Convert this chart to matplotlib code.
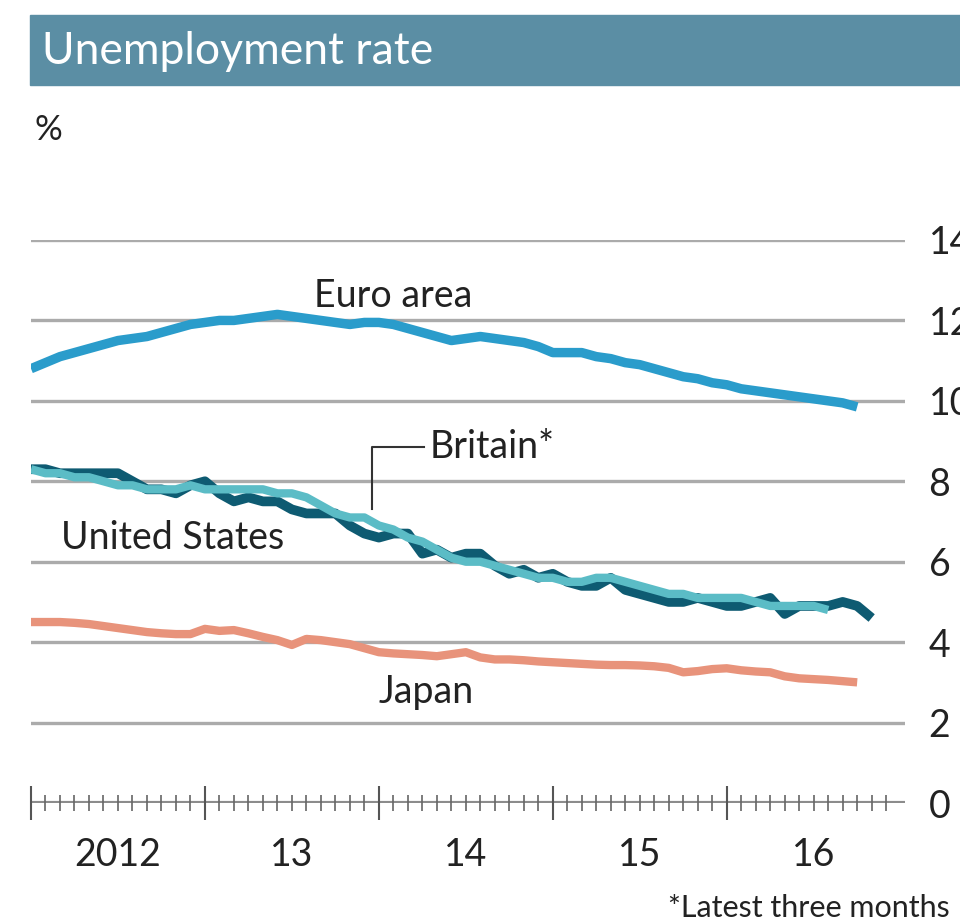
import matplotlib
matplotlib.use("Agg")
import matplotlib.pyplot as plt
from matplotlib import transforms

# monthly unemployment rates, %, starting January 2012
euro_area = [10.8, 10.95, 11.1, 11.2, 11.3, 11.4, 11.5, 11.55, 11.6, 11.7, 11.8, 11.9,
             11.95, 12.0, 12.0, 12.05, 12.1, 12.15, 12.1, 12.05, 12.0, 11.95, 11.9, 11.95,
             11.95, 11.9, 11.8, 11.7, 11.6, 11.5, 11.55, 11.6, 11.55, 11.5, 11.45, 11.35,
             11.2, 11.2, 11.2, 11.1, 11.05, 10.95, 10.9, 10.8, 10.7, 10.6, 10.55, 10.45,
             10.4, 10.3, 10.25, 10.2, 10.15, 10.1, 10.05, 10.0, 9.95, 9.85]
united_states = [8.3, 8.3, 8.2, 8.2, 8.2, 8.2, 8.2, 8.0, 7.8, 7.8, 7.7, 7.9,
                 8.0, 7.7, 7.5, 7.6, 7.5, 7.5, 7.3, 7.2, 7.2, 7.2, 6.9, 6.7,
                 6.6, 6.7, 6.7, 6.2, 6.3, 6.1, 6.2, 6.2, 5.9, 5.7, 5.8, 5.6,
                 5.7, 5.5, 5.4, 5.4, 5.6, 5.3, 5.2, 5.1, 5.0, 5.0, 5.1, 5.0,
                 4.9, 4.9, 5.0, 5.1, 4.7, 4.9, 4.9, 4.9, 5.0, 4.9, 4.6]
britain = [8.3, 8.2, 8.2, 8.1, 8.1, 8.0, 7.9, 7.9, 7.8, 7.8, 7.8, 7.9,
           7.8, 7.8, 7.8, 7.8, 7.8, 7.7, 7.7, 7.6, 7.4, 7.2, 7.1, 7.1,
           6.9, 6.8, 6.6, 6.5, 6.3, 6.1, 6.0, 6.0, 5.9, 5.8, 5.7, 5.6,
           5.6, 5.5, 5.5, 5.6, 5.6, 5.5, 5.4, 5.3, 5.2, 5.2, 5.1, 5.1,
           5.1, 5.1, 5.0, 4.9, 4.9, 4.9, 4.9, 4.8]
japan = [4.5, 4.5, 4.5, 4.48, 4.45, 4.4, 4.35, 4.3, 4.25, 4.22, 4.2, 4.2,
         4.33, 4.28, 4.3, 4.22, 4.13, 4.05, 3.93, 4.08, 4.05, 4.0, 3.95, 3.85,
         3.75, 3.72, 3.7, 3.68, 3.65, 3.7, 3.75, 3.62, 3.57, 3.57, 3.55, 3.52,
         3.5, 3.48, 3.46, 3.44, 3.43, 3.43, 3.42, 3.4, 3.36, 3.25, 3.28, 3.33,
         3.35, 3.3, 3.27, 3.25, 3.15, 3.1, 3.08, 3.06, 3.03, 3.0]

y_ticks = [0, 2, 4, 6, 8, 10, 12, 14]
year_labels = ["2012", "13", "14", "15", "16"]

plt.rcParams['font.family'] = ['Lato', 'DejaVu Sans']

fig = plt.figure(figsize=(9.6, 9.23), dpi=100)
fig.patch.set_facecolor("white")

# title bar
fig.patches.append(plt.Rectangle((30 / 960, 1 - 85 / 923), 930 / 960, 70 / 923,
                                 transform=fig.transFigure, color="#5b8ea4",
                                 zorder=0))
fig.text(42 / 960, 1 - 51 / 923, "Unemployment rate", color="white",
         fontsize=32, va="center", ha="left")
fig.text(34 / 960, 1 - 130 / 923, "%", color="#222222", fontsize=25,
         va="center", ha="left")
fig.text(950 / 960, 1 - 908 / 923, "*Latest three months", color="#222222",
         fontsize=22, va="center", ha="right")

ax = fig.add_axes([31 / 960, 120 / 923, 874 / 960, 563 / 923])
ax.set_xlim(0, 60.3)
ax.set_ylim(0, 14)
for s in ax.spines.values():
    s.set_visible(False)
ax.patch.set_alpha(0)

for v in y_ticks:
    if v == 0:
        ax.axhline(v, color="#8c8c8c", lw=3, zorder=1)
    else:
        ax.axhline(v, color="#ababab", lw=2.4, zorder=1)

ax.yaxis.tick_right()
ax.set_yticks(y_ticks)
ax.set_yticklabels([str(v) for v in y_ticks])
ax.tick_params(axis="y", length=0, pad=17, labelsize=27, labelcolor="#222222")

ax.set_xticks(range(0, 60, 12))
ax.set_xticks(range(0, 60), minor=True)
ax.set_xticklabels([])
ax.tick_params(axis="x", which="major", direction="inout", length=24,
               width=1.5, color="#555555")
ax.tick_params(axis="x", which="minor", direction="inout", length=11,
               width=1.2, color="#666666")

trans = transforms.blended_transform_factory(ax.transData, ax.transAxes)
for i, lab in enumerate(year_labels):
    ax.text(i * 12 + 6, -0.093, lab, transform=trans, ha="center",
            va="center", fontsize=27, color="#222222")

style = dict(solid_capstyle="butt", solid_joinstyle="round")
ax.plot(range(len(japan)), japan, color="#e8937b", lw=6, zorder=3, **style)
ax.plot(range(len(euro_area)), euro_area, color="#2a9ccb", lw=6.8, zorder=3,
        **style)
ax.plot(range(len(united_states)), united_states, color="#0e5b72", lw=7,
        zorder=3, **style)
ax.plot(range(len(britain)), britain, color="#5bbcc6", lw=6, zorder=4,
        **style)

ax.text(19.5, 12.6, "Euro area", fontsize=27, color="#222222",
        ha="left", va="center")
ax.text(27.5, 8.85, "Britain*", fontsize=27, color="#222222",
        ha="left", va="center")
ax.text(2.1, 6.6, "United States", fontsize=27, color="#222222",
        ha="left", va="center")
ax.text(24.0, 2.75, "Japan", fontsize=27, color="#222222",
        ha="left", va="center")
# leader from the Britain label down to its line
ax.plot([27.1, 23.5, 23.5], [8.85, 8.85, 7.3], color="#333333", lw=1.5,
        zorder=5)

fig.savefig("out.png", dpi=100)
